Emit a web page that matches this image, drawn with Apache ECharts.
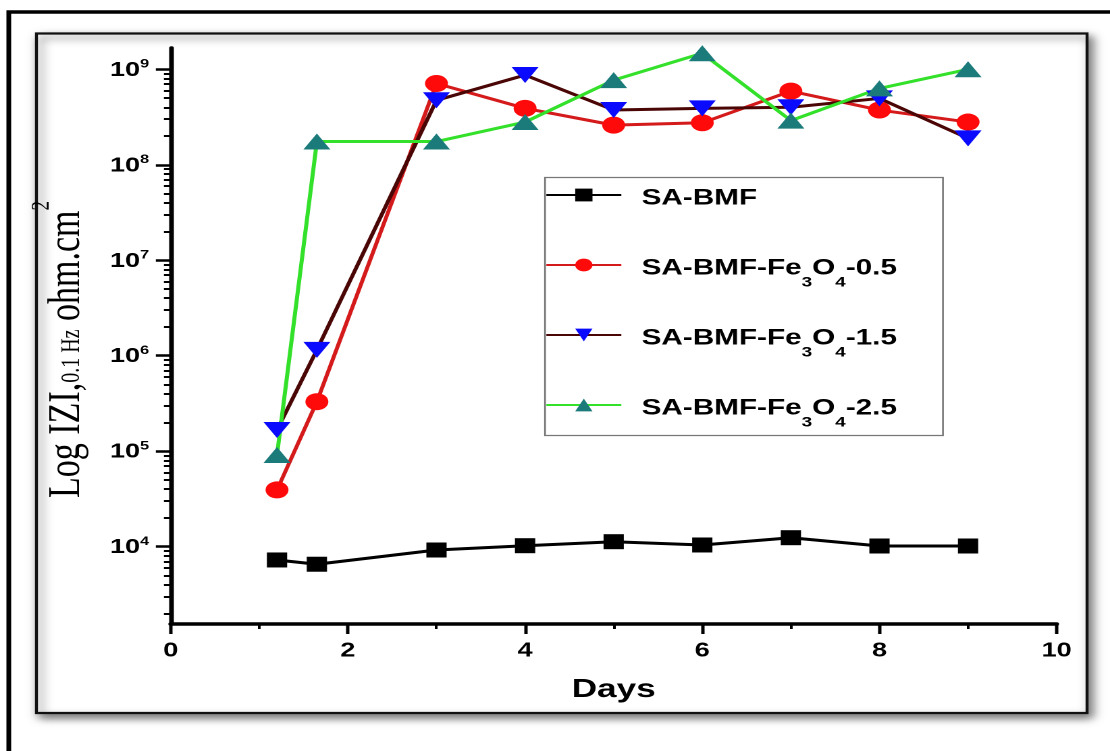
<!DOCTYPE html>
<html><head><meta charset="utf-8">
<script src="https://cdn.jsdelivr.net/npm/echarts@6/dist/echarts.min.js"></script>
<style>
html,body{margin:0;padding:0;background:#fff;overflow:hidden}
#wrap{width:1110px;height:751px;overflow:hidden;position:relative;background:#fff}
#c{width:822px;height:751px;transform:scaleX(1.35036);transform-origin:0 0}
</style>
</head><body><div id="wrap"><div id="c"></div></div>
<script>
// ---- data ----
const days = [1.2, 1.65, 3, 4, 5, 6, 7, 8, 9];
const saBmf = [7260, 6550, 9230, 10240, 11280, 10420, 12420, 10170, 10170];
const fe05 = [39300, 330000, 7.1e8, 3.9e8, 2.6e8, 2.75e8, 5.9e8, 3.74e8, 2.8e8];
const fe15 = [167000, 1150000, 4.73e8, 8.7e8, 3.74e8, 3.9e8, 4.0e8, 4.95e8, 1.89e8];
const fe25 = [91300, 1.75e8, 1.75e8, 2.8e8, 7.7e8, 1.47e9, 2.9e8, 6.3e8, 1.0e9];
const seriesNames = ['SA-BMF', 'SA-BMF-Fe3O4-0.5', 'SA-BMF-Fe3O4-1.5', 'SA-BMF-Fe3O4-2.5'];
const yMajorTicks = [1e4, 1e5, 1e6, 1e7, 1e8, 1e9];
const yMin = 1550, yMax = 1.67e9;
const xMin = 0, xMax = 10, xStep = 2;

// minor tick values of the log axis (2..9 x 10^n), expressed as exponents for a helper axis
const yMinorTicks = [];
for (let e = 3; e <= 9; e++) {
  for (let k = 2; k <= 9; k++) {
    const v = k * Math.pow(10, e);
    if (v >= yMin && v <= yMax) yMinorTicks.push(v);
  }
}
const yMinorExp = yMinorTicks.map(v => Math.log10(v));
const pairs = vals => days.map((d, i) => [d, vals[i]]);

const gridLeft = 126.4, gridRight = 39.5, chartW = 822;
const chart = echarts.init(document.getElementById('c'), null, {renderer: 'canvas', devicePixelRatio: 2});
const sansB = {fontFamily: 'Liberation Sans', fontWeight: 'bold', color: '#000'};

const option = {
  animation: false,
  backgroundColor: 'transparent',
  grid: {left: gridLeft, right: gridRight, top: 48, bottom: 127, containLabel: false},
  graphic: [
    {type: 'rect', z: -10, shape: {x: 6.5, y: 12, width: 900, height: 800},
     style: {fill: '#fff', stroke: '#000', lineWidth: 3.5}},
    {type: 'rect', z: -9, shape: {x: 27, y: 33.5, width: 778, height: 679.5},
     style: {fill: '#fff', stroke: '#111', lineWidth: 2.2, shadowBlur: 8, shadowOffsetX: 3, shadowOffsetY: 4, shadowColor: 'rgba(0,0,0,0.55)'}},
    {type: 'rect', z: 1, shape: {x: 403.6, y: 177.5, width: 294.7, height: 258},
     style: {fill: '#fff', stroke: '#777', lineWidth: 1.3}}
  ],
  legend: {
    orient: 'vertical', left: 403.6, top: 187.5, padding: 0, itemGap: 38,
    itemWidth: 55.5, itemHeight: 16, z: 5,
    data: seriesNames,
    formatter: n => n.indexOf('Fe3O4') < 0 ? '{t|' + n + '}{sub| }' :
      '{t|' + n.split('Fe3O4')[0] + 'Fe}{sub|3}{t|O}{sub|4}{t|' + n.split('Fe3O4')[1] + '}',
    textStyle: {
      padding: [17, 0, 0, 10],
      rich: {
        t: Object.assign({fontSize: 22, lineHeight: 32, verticalAlign: 'top'}, sansB),
        sub: Object.assign({fontSize: 14, lineHeight: 14, padding: [18, 0, 0, 0], verticalAlign: 'top'}, sansB)
      }
    }
  },
  xAxis: {
    type: 'value', min: xMin, max: xMax, interval: xStep,
    axisLine: {lineStyle: {color: '#000', width: 3.5}},
    axisTick: {length: 10, lineStyle: {color: '#000', width: 2.5}},
    minorTick: {show: true, splitNumber: 2, length: 5, lineStyle: {color: '#000', width: 2}},
    splitLine: {show: false}, minorSplitLine: {show: false},
    axisLabel: Object.assign({fontSize: 20, margin: 17}, sansB),
    name: 'Days', nameLocation: 'middle', nameGap: 53,
    nameTextStyle: Object.assign({fontSize: 26}, sansB)
  },
  yAxis: [
    {
      type: 'log', logBase: 10, min: yMin, max: yMax, position: 'left',
      axisLine: {show: true, lineStyle: {color: '#000', width: 3.5}},
      axisTick: {show: true, length: 11, customValues: yMajorTicks, lineStyle: {color: '#000', width: 2.5}},
      splitLine: {show: false}, minorTick: {show: false},
      axisLabel: {
        customValues: yMajorTicks, margin: 16, showMinLabel: true, showMaxLabel: true,
        formatter: v => '{b|10}{s|' + Math.round(Math.log10(v)) + '}',
        rich: {
          b: Object.assign({fontSize: 20, lineHeight: 22, verticalAlign: 'bottom'}, sansB),
          s: Object.assign({fontSize: 12, lineHeight: 12, padding: [0, 0, 8, 0], verticalAlign: 'top'}, sansB)
        }
      },
      name: '{a|Log IZI,}{sub|0.1 Hz}{a| ohm.cm}{sup|2}',
      nameLocation: 'middle', nameRotate: 90, nameGap: 60,
      nameTextStyle: {
        padding: [0, 27, 0, 0],
        rich: {
          a: {fontFamily: 'Liberation Serif', fontSize: 34, color: '#000', verticalAlign: 'bottom'},
          sub: {fontFamily: 'Liberation Serif', fontSize: 20, color: '#000', verticalAlign: 'bottom', padding: [0, 0, 3, 0]},
          sup: {fontFamily: 'Liberation Serif', fontSize: 19, color: '#000', verticalAlign: 'top', padding: [0, 0, 26, 0]}
        }
      }
    },
    {
      // helper axis in exponent space, only used to draw the log-spaced minor ticks;
      // it is a right-side axis moved onto the left edge of the plot
      type: 'value', min: Math.log10(yMin), max: Math.log10(yMax), position: 'right',
      offset: -(chartW - gridLeft - gridRight),
      axisLine: {show: true, lineStyle: {color: 'rgba(0,0,0,0)', width: 1}},
      axisTick: {show: true, inside: true, length: 5, customValues: yMinorExp, lineStyle: {color: '#000', width: 2}},
      axisLabel: {show: false}, splitLine: {show: false}
    }
  ],
  series: [
    {name: seriesNames[0], type: 'line', data: pairs(saBmf), symbol: 'rect', symbolSize: 15,
     itemStyle: {color: '#000', borderWidth: 0}, lineStyle: {color: '#000', width: 3}},
    {name: seriesNames[1], type: 'line', data: pairs(fe05), symbol: 'circle', symbolSize: 17,
     itemStyle: {color: '#ff0a0a', borderWidth: 0}, lineStyle: {color: '#d41a1a', width: 3}},
    {name: seriesNames[2], type: 'line', data: pairs(fe15), symbol: 'triangle', symbolRotate: 180, symbolSize: [20, 16],
     itemStyle: {color: '#0a0aff', borderWidth: 0}, lineStyle: {color: '#4a0505', width: 3}},
    {name: seriesNames[3], type: 'line', data: pairs(fe25), symbol: 'triangle', symbolSize: [20, 16],
     itemStyle: {color: '#1b7b7b', borderWidth: 0}, lineStyle: {color: '#33e02a', width: 3}}
  ]
};
chart.setOption(option);
</script>
</body></html>
